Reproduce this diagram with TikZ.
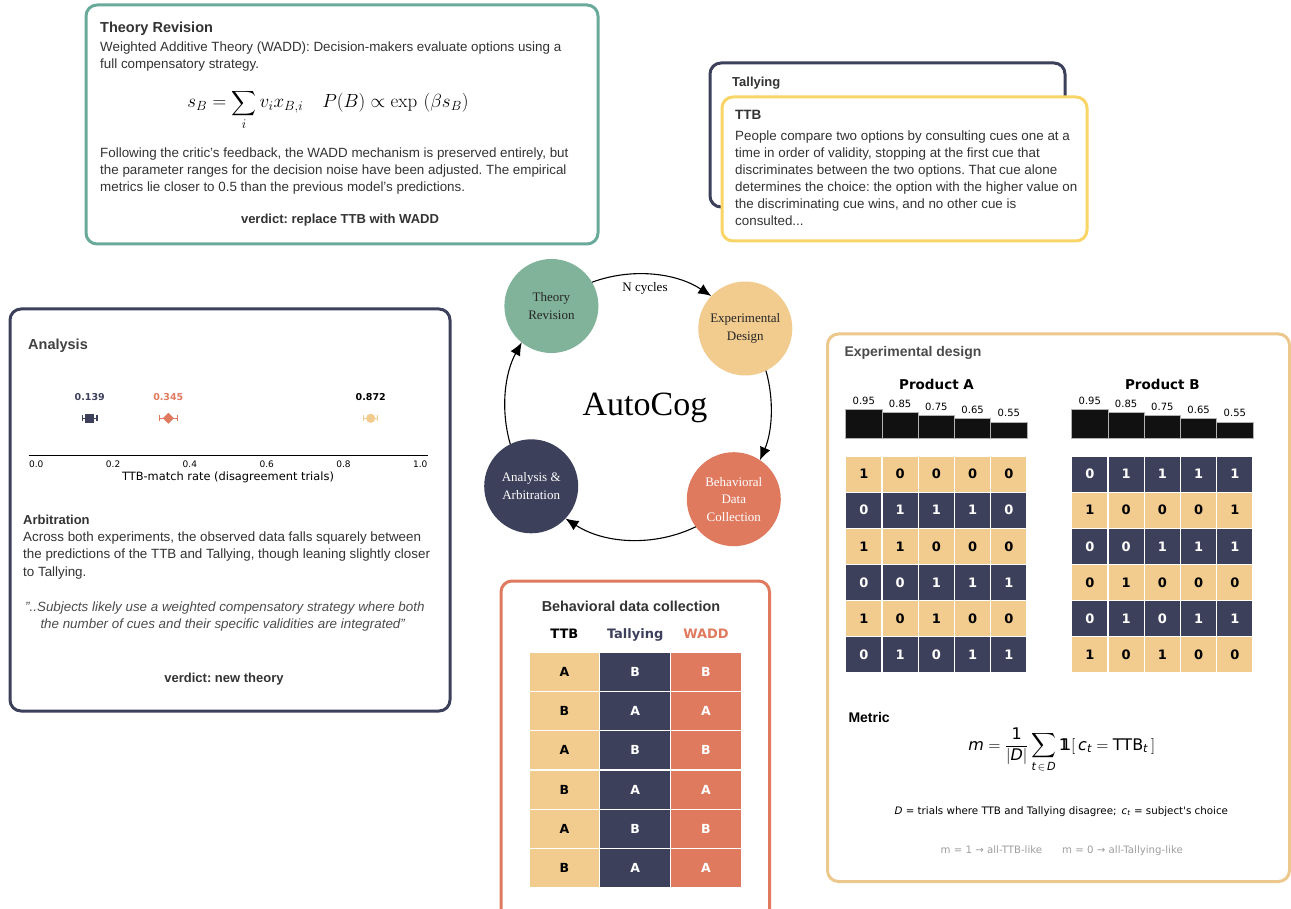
\RequirePackage{fix-cm}
\documentclass[tikz,border=0pt]{standalone}
\usepackage{amsmath}
\usepackage[no-math]{fontspec}
\setmainfont{Liberation Sans}
\newfontfamily\dv{DejaVu Sans}
\newfontfamily\srf{Liberation Serif}
\usetikzlibrary{arrows.meta,shapes.geometric}
\definecolor{navy}{HTML}{3D405B}
\definecolor{terra}{HTML}{E07A5F}
\definecolor{sand}{HTML}{F2CC8F}
\definecolor{sage}{HTML}{81B29A}
\definecolor{trborder}{HTML}{6AAA9A}
\definecolor{ttby}{HTML}{F9D466}
\definecolor{edb}{HTML}{ECC88C}
\definecolor{txt}{HTML}{333333}
\definecolor{barc}{HTML}{111111}
\newcommand{\mi}[1]{\text{\dv\itshape #1}}
\frenchspacing
\tikzset{
  panel/.style={draw, line width=3pt, rounded corners=11pt, fill=white},
  ptitle/.style={anchor=base west, inner sep=0pt, font=\bfseries\fontsize{14.5}{17}\selectfont, text=txt},
  body/.style={anchor=north west, inner sep=0pt, align=left, font=\fontsize{13.38}{17}\selectfont, text=txt},
  verdict/.style={anchor=base, inner sep=0pt, font=\bfseries\fontsize{13}{16}\selectfont, text=txt},
  stage/.style={circle, minimum size=94pt, inner sep=0pt, align=center, font=\srf\fontsize{13}{17.5}\selectfont},
  cyc/.style={-{Latex[length=13pt,width=11pt]}, line width=1.1pt, black},
  ticklab/.style={anchor=base, inner sep=0pt, font=\dv\fontsize{9}{10}\selectfont, text=black},
  vallab/.style={anchor=base, inner sep=0pt, font=\dv\bfseries\fontsize{9.5}{10}\selectfont},
  barlab/.style={anchor=base, inner sep=0pt, font=\dv\fontsize{10}{11}\selectfont, text=black},
  prodlab/.style={anchor=base, inner sep=0pt, font=\dv\bfseries\fontsize{13.5}{15}\selectfont, text=black},
  cell/.style={minimum width=36.26pt, minimum height=36.12pt, inner sep=0pt, draw=white, line width=1.2pt, font=\dv\bfseries\fontsize{13}{13}\selectfont},
  tcell/.style={minimum width=70.77pt, minimum height=39.33pt, inner sep=0pt, draw=white, line width=1.2pt, font=\dv\bfseries\fontsize{12.5}{13}\selectfont},
  thead/.style={anchor=base, inner sep=0pt, font=\dv\bfseries\fontsize{13}{15}\selectfont},
  bar/.style={fill=barc, draw=gray!60, line width=0.8pt}
}
\begin{document}
\begin{tikzpicture}[x=1pt,y=-1pt]
\useasboundingbox (0,0) rectangle (1291,909);
\fill[white] (0,0) rectangle (1291,909);
\begin{scope}
\clip (0,0) rectangle (1291,909);

% ---------------- Theory Revision panel
\draw[panel, draw=trborder] (86,5) rectangle (598,244);
\node[ptitle] (trt) at (100,33) {Theory Revision};
\node[body] (trb1) at (100,41.5) {Weighted Additive Theory (WADD): Decision-makers evaluate options using a\\full compensatory strategy.};
\node[anchor=base, inner sep=0pt] (trf) at (328,108) {\fontsize{19}{22}\selectfont$\displaystyle s_B=\sum_i v_i x_{B,i}\quad P(B)\propto\exp\,\left(\beta s_B\right)$};
\node[body] (trb2) at (100,147.2) {Following the critic's feedback, the WADD mechanism is preserved entirely, but\\the parameter ranges for the decision noise have been adjusted. The empirical\\metrics lie closer to 0.5 than the previous model's predictions.};
\node[verdict] (trv) at (340,224) {verdict: replace TTB with WADD};

% ---------------- Tallying / TTB panels
\draw[panel, draw=navy] (710,63) rectangle (1065,207);
\node[ptitle, font=\bfseries\fontsize{13}{15}\selectfont] (tlt) at (732,87) {Tallying};
\draw[panel, draw=ttby] (722,97) rectangle (1087,241);
\node[ptitle, font=\bfseries\fontsize{13.5}{15}\selectfont] (ttbt) at (735,120) {TTB};
\node[body] (ttbb) at (735,130.5) {People compare two options by consulting cues one at a\\time in order of validity, stopping at the first cue that\\discriminates between the two options. That cue alone\\determines the choice: the option with the higher value on\\the discriminating cue wins, and no other cue is\\consulted...};

% ---------------- Cycle
\coordinate (cc) at (638,407);
\node[stage, fill=sage, text=black!85] (tr) at (551.4,306.0) {Theory\\Revision};
\node[stage, fill=sand, text=black!85] (ed) at (745.3,328.5) {Experimental\\Design};
\node[stage, fill=terra, text=white] (bdc) at (733.8,499.2) {Behavioral\\Data\\Collection};
\node[stage, fill=navy, text=white] (aa) at (531.2,486.3) {Analysis \&\\Arbitration};
\path[shift={(cc)}] (-110.25:133) coordinate (tr-o) (-15.85:133) coordinate (ed-o)
      (64.25:133) coordinate (bdc-o) (163.75:133) coordinate (aa-o);
\draw[cyc] (tr-o) arc[start angle=-110.25, end angle=-56.55, radius=133];
\draw[cyc] (ed-o) arc[start angle=-15.85, end angle=23.55, radius=133];
\draw[cyc] (bdc-o) arc[start angle=64.25, end angle=123.05, radius=133];
\draw[cyc] (aa-o) arc[start angle=163.75, end angle=209.05, radius=133];
\node[font=\srf\fontsize{13}{15}\selectfont, inner sep=0pt] (ncyc) at (645,288) {N cycles};
\node[anchor=base, inner sep=0pt, font=\srf\fontsize{34}{40}\selectfont] (autocog) at (645,415.7) {AutoCog};

% ---------------- Analysis panel
\draw[panel, draw=navy] (10,309) rectangle (450,711);
\node[ptitle, text=black!75] (ant) at (28,349) {Analysis};
\node[vallab, text=navy] (v1) at (89.7,400) {0.139};
\node[vallab, text=terra] (v2) at (168.3,400) {0.345};
\node[vallab, text=black] (v3) at (370.7,400) {0.872};
% error bars and markers
\draw[navy, line width=1.1pt] (82.4,418.3) -- (97,418.3) (82.4,415.3) -- (82.4,421.3) (97,415.3) -- (97,421.3);
\fill[navy] (85.3,413.9) rectangle (94.1,422.7);
\draw[terra, line width=1.1pt] (159.1,418.3) -- (177.5,418.3) (159.1,415.3) -- (159.1,421.3) (177.5,415.3) -- (177.5,421.3);
\fill[terra] (162.8,418.3) -- (168.3,412.8) -- (173.8,418.3) -- (168.3,423.8) -- cycle;
\draw[sand, line width=1.1pt] (363.9,418.3) -- (377.5,418.3) (363.9,415.3) -- (363.9,421.3) (377.5,415.3) -- (377.5,421.3);
\fill[sand] (370.7,418.3) circle[radius=4.6];
% axis
\draw[black, line width=1pt] (28.7,455.7) -- (428,455.7);
\foreach \t/\lab [count=\k] in {0/0.0,0.2/0.2,0.4/0.4,0.6/0.6,0.8/0.8,1/1.0} {
  \pgfmathsetmacro{\tx}{36.3+384*\t}
  \node[ticklab] (tk\k) at (\tx,467.3) {\lab};
}
\node[anchor=base, inner sep=0pt, font=\dv\fontsize{11.4}{13}\selectfont] (xlab) at (228,480) {TTB-match rate (disagreement trials)};
\node[ptitle, font=\bfseries\fontsize{13}{15}\selectfont] (arbt) at (23,524) {Arbitration};
\node[body, font=\fontsize{13.38}{17.5}\selectfont] (arbb) at (23,531.5) {Across both experiments, the observed data falls squarely between\\the predictions of the TTB and Tallying, though leaning slightly closer\\to Tallying.};
\node[body, font=\itshape\fontsize{13.38}{17.6}\selectfont, text=black!70] (quote) at (25,601.2) {"..Subjects likely use a weighted compensatory strategy where both\\\hspace*{15.3pt}the number of cues and their specific validities are integrated"};
\node[verdict] (anv) at (224,682.7) {verdict: new theory};

% ---------------- Behavioral data collection panel
\draw[panel, draw=terra] (501,581) rectangle (769.5,930);
\node[anchor=base, inner sep=0pt, font=\bfseries\fontsize{14.4}{16}\selectfont, text=txt] (bdt) at (631,611.3) {Behavioral data collection};
\node[thead, text=black] (h1) at (564.4,638) {TTB};
\node[thead, text=navy] (h2) at (635.2,638) {Tallying};
\node[thead, text=terra] (h3) at (706,638) {WADD};
\foreach \ri in {1,...,6} {
  \ifodd\ri \def\ta{A}\def\tb{B}\else\def\ta{B}\def\tb{A}\fi
  \pgfmathsetmacro{\ym}{652+(\ri-0.5)*39.33}
  \node[tcell, fill=sand, text=black] (t1-\ri) at (564.4,\ym) {\ta};
  \node[tcell, fill=navy, text=white] (t2-\ri) at (635.2,\ym) {\tb};
  \node[tcell, fill=terra, text=white] (t3-\ri) at (705.9,\ym) {\tb};
}

% ---------------- Experimental design panel
\draw[panel, draw=edb] (827.5,334) rectangle (1289.5,881.5);
\node[ptitle, font=\bfseries\fontsize{14}{16}\selectfont, text=black!70] (edt) at (844.3,356) {Experimental design};
\node[prodlab] (pa) at (936.5,389.3) {Product A};
\node[prodlab] (pb) at (1162.3,389.3) {Product B};
\foreach \xo/\g in {845.7/a,1071.7/b} {
  \foreach \v [count=\i] in {0.95,0.85,0.75,0.65,0.55} {
    \pgfmathsetmacro{\bt}{409+(0.95-\v)*32.5}
    \pgfmathsetmacro{\xl}{\xo+(\i-1)*36.26}
    \pgfmathsetmacro{\xr}{\xl+36.26}
    \pgfmathsetmacro{\xm}{\xl+18.13}
    \pgfmathsetmacro{\ly}{\bt-5}
    \draw[bar] (\xl,\bt) rectangle (\xr,438.7);
    \node[barlab] (bar\g-\i) at (\xm,\ly) {\v};
  }
}
% grid A
\foreach \rv [count=\ri] in {{1,0,0,0,0},{0,1,1,1,0},{1,1,0,0,0},{0,0,1,1,1},{1,0,1,0,0},{0,1,0,1,1}} {
  \ifodd\ri \def\cf{sand}\def\ct{black}\else\def\cf{navy}\def\ct{white}\fi
  \pgfmathsetmacro{\ym}{456+(\ri-0.5)*36.12}
  \foreach \v [count=\ci] in \rv {
    \pgfmathsetmacro{\xm}{845.7+(\ci-0.5)*36.26}
    \node[cell, fill=\cf, text=\ct] (ga-\ri-\ci) at (\xm,\ym) {\v};
  }
}
% grid B
\foreach \rv [count=\ri] in {{0,1,1,1,1},{1,0,0,0,1},{0,0,1,1,1},{0,1,0,0,0},{0,1,0,1,1},{1,0,1,0,0}} {
  \ifodd\ri \def\cf{navy}\def\ct{white}\else\def\cf{sand}\def\ct{black}\fi
  \pgfmathsetmacro{\ym}{456+(\ri-0.5)*36.12}
  \foreach \v [count=\ci] in \rv {
    \pgfmathsetmacro{\xm}{1071.7+(\ci-0.5)*36.26}
    \node[cell, fill=\cf, text=\ct] (gb-\ri-\ci) at (\xm,\ym) {\v};
  }
}
\node[ptitle, font=\bfseries\fontsize{14}{16}\selectfont, text=black] (mett) at (848.3,722.7) {Metric};
\node[anchor=base, inner sep=0pt] (metf) at (1061.7,750) {\fontsize{16}{19}\selectfont$\displaystyle \mi{m}=\frac{\text{\dv 1}}{|\mi{D}|}\sum\limits_{\mi{t}\,\in\,\mi{D}}\text{\dv 1\kern-0.5em 1}[\,\mi{c}_{\mi{t}}=\text{\dv TTB}_{\mi{t}}\,]$};
\node[anchor=base, inner sep=0pt, font=\dv\fontsize{10.3}{12}\selectfont] (metn) at (1061.3,814) {{\itshape D} = trials where TTB and Tallying disagree;\enspace{\itshape c}\textsubscript{\itshape t} = subject's choice};
\node[anchor=base, inner sep=0pt, font=\dv\fontsize{10.2}{12}\selectfont, text=black!38] (metg) at (1061.7,853.3) {m = 1 → all-TTB-like\hspace{20pt}m = 0 → all-Tallying-like};
\end{scope}
\end{tikzpicture}
\end{document}
